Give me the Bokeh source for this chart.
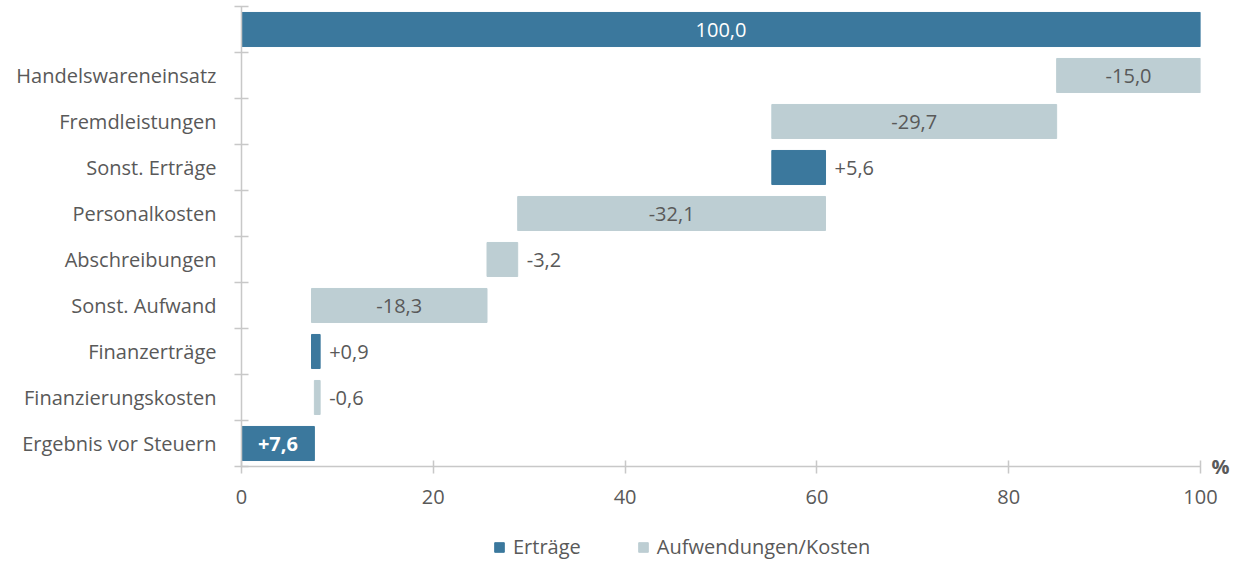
from bokeh.plotting import figure
from bokeh.models import (ColumnDataSource, FixedTicker, Range1d, Legend, LegendItem,
                          LinearAxis)
from bokeh.layouts import column
from bokeh.embed import file_html
from bokeh.resources import INLINE
from bokeh.core.properties import value

categories = ["", "Handelswareneinsatz", "Fremdleistungen", "Sonst. Erträge", "Personalkosten",
              "Abschreibungen", "Sonst. Aufwand", "Finanzerträge", "Finanzierungskosten",
              "Ergebnis vor Steuern"]
values = [100.0, -15.0, -29.7, 5.6, -32.1, -3.2, -18.3, 0.9, -0.6, 7.6]
is_total = [True, False, False, False, False, False, False, False, False, True]
series_names = ["Erträge", "Aufwendungen/Kosten"]
x_ticks = [0, 20, 40, 60, 80, 100]
unit_label = "%"

BLUE = "#3B789D"
GREY = "#BDCED3"
TXT = "#595959"
AX = "#C8C8C8"
FONT = "Open Sans"
FS = "20px"

n = len(categories)
lefts, rights, ys, colors = [], [], [], []
running = 0.0
for i, (v, t) in enumerate(zip(values, is_total)):
    if t:
        a, b = 0.0, v
        running = v
    else:
        new = running + v
        a, b = min(running, new), max(running, new)
        running = new
    lefts.append(a)
    rights.append(b)
    ys.append(n - 1 - i + 0.5)
    colors.append(BLUE if v > 0 else GREY)

src = ColumnDataSource(dict(left=lefts, right=rights, y=ys, color=colors))

p = figure(width=1245, height=513, output_backend="svg", toolbar_location=None,
           x_range=Range1d(0, 100), y_range=Range1d(0, n),
           min_border_left=241, min_border_right=45, min_border_top=6, min_border_bottom=47)
p.outline_line_color = None
p.xgrid.grid_line_color = None
p.ygrid.grid_line_color = None
p.background_fill_color = "white"
p.border_fill_color = "white"

p.hbar(y="y", left="left", right="right", height=0.74, fill_color="color",
       line_color="color", source=src)

# value labels
in_x, in_y, in_t, in_c, in_b = [], [], [], [], []
out_x, out_y, out_t = [], [], []
for i, v in enumerate(values):
    s = f"{abs(v):.1f}".replace(".", ",")
    if is_total[i] and i == 0:
        txt = s
    else:
        txt = ("+" if v > 0 else "-") + s
    if abs(v) >= 7:
        in_x.append((lefts[i] + rights[i]) / 2)
        in_y.append(ys[i])
        in_t.append(txt)
        in_c.append("white" if v > 0 else TXT)
        in_b.append("bold" if (is_total[i] and i > 0) else "normal")
    else:
        out_x.append(rights[i])
        out_y.append(ys[i])
        out_t.append(txt)

p.text(x=in_x, y=in_y, text=in_t, text_color=in_c, text_font_style=in_b,
       text_align="center", text_baseline="middle", text_font=value(FONT),
       text_font_size=FS)
p.text(x=out_x, y=out_y, text=out_t, text_color=TXT, x_offset=9,
       text_align="left", text_baseline="middle", text_font=value(FONT),
       text_font_size=FS)

# x axis
xa = p.xaxis[0]
xa.ticker = FixedTicker(ticks=x_ticks, minor_ticks=[])
xa.axis_line_color = AX
xa.axis_line_width = 1.5
xa.major_tick_line_color = AX
xa.major_tick_line_width = 1.5
xa.major_tick_in = 6
xa.major_tick_out = 7
xa.minor_tick_line_color = None
xa.major_label_standoff = 16
xa.major_label_text_font = FONT
xa.major_label_text_font_size = FS
xa.major_label_text_color = TXT

# y axis
ya = p.yaxis[0]
ya.ticker = FixedTicker(ticks=ys, minor_ticks=list(range(0, n + 1)))
ya.major_label_overrides = {y: c for y, c in zip(ys, categories)}
ya.axis_line_color = AX
ya.axis_line_width = 1.5
ya.major_tick_line_color = None
ya.major_tick_in = 0
ya.major_tick_out = 0
ya.minor_tick_line_color = AX
ya.minor_tick_line_width = 1.5
ya.minor_tick_in = 7
ya.minor_tick_out = 7
ya.major_label_standoff = 18
ya.major_label_text_font = FONT
ya.major_label_text_font_size = FS
ya.major_label_text_color = TXT

# unit "%" at the end of the x axis (as a right-side axis label at y=0)
ra = LinearAxis(ticker=FixedTicker(ticks=[0], minor_ticks=[]),
                major_label_overrides={0: unit_label})
ra.axis_line_color = None
ra.major_tick_line_color = None
ra.minor_tick_line_color = None
ra.major_tick_in = 0
ra.major_tick_out = 0
ra.major_label_standoff = 11
ra.major_label_text_font = FONT
ra.major_label_text_font_size = FS
ra.major_label_text_font_style = "bold"
ra.major_label_text_color = TXT
p.add_layout(ra, "right")

# legend in a small figure underneath
lg = figure(width=1245, height=50, output_backend="svg", toolbar_location=None,
            x_range=Range1d(0, 1), y_range=Range1d(0, 1), x_axis_type=None, y_axis_type=None,
            min_border_left=0, min_border_right=0, min_border_top=0, min_border_bottom=0)
lg.outline_line_color = None
lg.xgrid.grid_line_color = None
lg.ygrid.grid_line_color = None
b1 = lg.hbar(y=[-5], left=[0], right=[1], height=0.5, fill_color=BLUE, line_color=BLUE)
b2 = lg.hbar(y=[-5], left=[0], right=[1], height=0.5, fill_color=GREY, line_color=GREY)
legend = Legend(items=[LegendItem(label=series_names[0], renderers=[b1]),
                       LegendItem(label=series_names[1], renderers=[b2])],
                orientation="horizontal", location=(252, 3), padding=0, margin=0,
                spacing=56, glyph_width=12, glyph_height=12, label_standoff=8,
                border_line_color=None, background_fill_alpha=0,
                label_text_font=FONT, label_text_font_size=FS, label_text_color=TXT)
lg.add_layout(legend, "center")

layout = column(p, lg, spacing=0)
open("out.html", "w").write(file_html(layout, INLINE))
